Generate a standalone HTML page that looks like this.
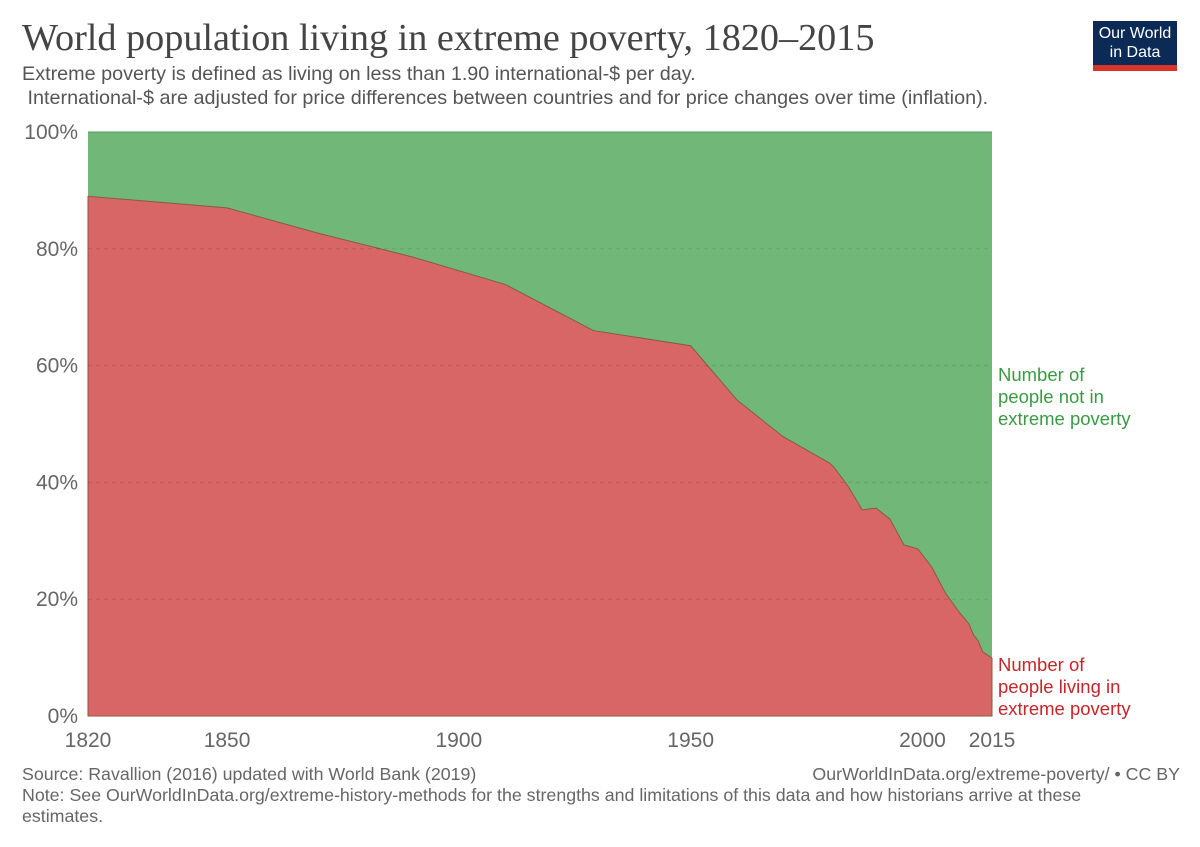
<!DOCTYPE html>
<html><head><meta charset="utf-8"><style>
body{margin:0;background:#fff;font-family:"Liberation Sans",sans-serif;}
#wrap{position:relative;width:1200px;height:847px;overflow:hidden;}
.t{position:absolute;white-space:nowrap;}
</style></head><body>
<div id="wrap">
<div class="t" style="left:22px;top:16px;font-family:'Liberation Serif',serif;font-size:38.2px;color:#444;">World population living in extreme poverty, 1820–2015</div>
<div class="t" style="left:22px;top:62px;font-size:19.8px;color:#555;line-height:24px;">Extreme poverty is defined as living on less than 1.90 international-$ per day.<br>&nbsp;International-$ are adjusted for price differences between countries and for price changes over time (inflation).</div>
<div style="position:absolute;left:1093px;top:21px;width:84px;height:50px;background:#0b2a56;border-bottom:6px solid #d73527;color:#fff;font-size:16px;line-height:19px;text-align:center;padding-top:3px;box-sizing:border-box;">Our World<br>in Data</div>
<svg id="chart" width="1200" height="847" style="position:absolute;left:0;top:0"></svg>
<div class="t" style="left:22px;top:764px;font-size:17.8px;color:#666;line-height:21px;">Source: Ravallion (2016) updated with World Bank (2019)<br>Note: See OurWorldInData.org/extreme-history-methods for the strengths and limitations of this data and how historians arrive at these<br>estimates.</div>
<div class="t" style="right:20px;top:764px;font-size:17.8px;color:#666;">OurWorldInData.org/extreme-poverty/ • CC BY</div>
</div>
<script>
const years=[1820,1850,1870,1890,1910,1929,1950,1960,1970,1980,1981,1984,1987,1990,1993,1996,1999,2002,2005,2008,2010,2011,2012,2013,2015];
const poorShare=[89.0,87.0,82.6,78.6,73.9,66.0,63.4,54.1,47.8,43.3,42.5,39.3,35.3,35.6,33.7,29.3,28.6,25.5,21.0,17.7,15.8,13.9,12.9,11.0,9.9];
const yTicks=[0,20,40,60,80,100];
const xTicks=[1820,1850,1900,1950,2000,2015];
const NS="http://www.w3.org/2000/svg";
const svgEl=document.getElementById('chart');
const X=y=>88+(y-1820)*(992-88)/195;
const Y=v=>716-v*5.84;
function mk(tag,attrs){const e=document.createElementNS(NS,tag);for(const k in attrs)e.setAttribute(k,attrs[k]);svgEl.appendChild(e);return e;}
const gArea=mk('rect',{x:X(1820),y:Y(100),width:X(2015)-X(1820),height:Y(0)-Y(100),fill:'#71b878'});


let d='M'+X(years[0])+','+Y(0);
years.forEach((yr,i)=>{d+=' L'+X(yr)+','+Y(poorShare[i]);});
d+=' L'+X(years[years.length-1])+','+Y(0)+' Z';
const rArea=mk('path',{d:d,fill:'#d86666',stroke:'#8a5a40','stroke-width':1});


yTicks.forEach(v=>{
  if(v>0&&v<100){const l=mk('line',{x1:X(1820),x2:X(2015),y1:Y(v),y2:Y(v),stroke:'rgba(0,0,0,0.12)','stroke-dasharray':'4,4'});
  
  }
  const t=mk('text',{x:78,y:Y(v)+7,'text-anchor':'end','font-size':21,fill:'#666','font-family':'Liberation Sans,sans-serif'});
  
  
  t.textContent=v+'%';
});
const topEdge=mk('line',{x1:X(1820),x2:X(2015),y1:Y(100),y2:Y(100),stroke:'#5a9a5e','stroke-width':1});


xTicks.forEach(yr=>{
  const t=mk('text',{x:X(yr),y:747,'text-anchor':'middle','font-size':21,fill:'#666','font-family':'Liberation Sans,sans-serif'});
  
  
  t.textContent=yr;
});
function label(lines,y0,color,name){lines.forEach((s,i)=>{const t=mk('text',{x:998,y:y0+i*22,'font-size':18.5,fill:color,'font-family':'Liberation Sans,sans-serif'});
  
  
  t.textContent=s;});}
label(['Number of','people not in','extreme poverty'],381,'#3a9a44','legend-not-in-poverty');
label(['Number of','people living in','extreme poverty'],671,'#c4262a','legend-extreme-poverty');
</script>
</body></html>
